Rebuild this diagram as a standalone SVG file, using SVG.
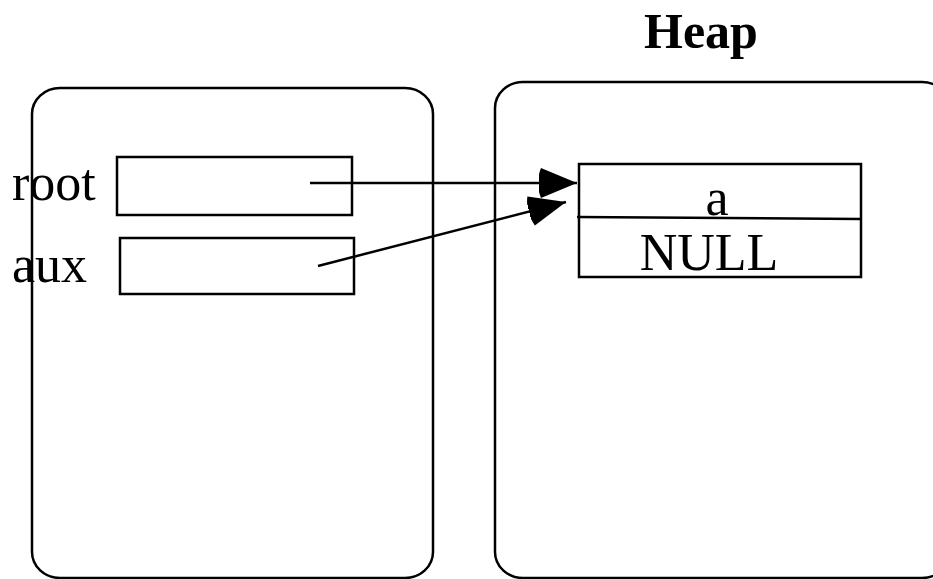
<svg xmlns="http://www.w3.org/2000/svg" width="933" height="579" viewBox="0 0 933 579">
  <style>
    .frame { fill: none; stroke: #000; stroke-width: 2.5; }
    .cell { fill: none; stroke: #000; stroke-width: 2.5; }
    .edge { fill: none; stroke: #000; stroke-width: 2.5; }
    .lbl { font-family: "Liberation Serif", "Times New Roman", serif; font-size: 52px; fill: #000; }
    .title { font-family: "Liberation Serif", "Times New Roman", serif; font-size: 50px; font-weight: bold; fill: #000; }
  </style>
  <defs>
    <marker id="arrow" markerUnits="userSpaceOnUse" markerWidth="44" markerHeight="34" refX="38" refY="15" orient="auto">
      <path d="M2,0 L38,15 L2,30 Q-4,15 2,0 Z" fill="#000"/>
    </marker>
  </defs>

  <!-- stack frame -->
  <g id="stack">
    <rect class="frame" x="32" y="88" width="401" height="490" rx="28" ry="26"/>
    <g id="root">
      <text class="lbl" x="12" y="200">root</text>
      <rect class="cell" x="117" y="157" width="235" height="58"/>
    </g>
    <g id="aux">
      <text class="lbl" x="12" y="282">aux</text>
      <rect class="cell" x="120" y="238" width="234" height="56"/>
    </g>
  </g>

  <!-- heap area -->
  <g id="heap">
    <text class="title" x="644" y="48">Heap</text>
    <rect class="frame" x="495" y="82" width="455" height="496" rx="28" ry="26"/>
    <g id="node-a">
      <rect class="cell" x="579" y="164" width="282" height="113"/>
      <line class="edge" x1="577" y1="217" x2="861" y2="219"/>
      <text class="lbl" x="717" y="215" text-anchor="middle">a</text>
      <text class="lbl" x="709" y="270" text-anchor="middle">NULL</text>
    </g>
  </g>

  <!-- pointers -->
  <g id="connectors">
    <line class="edge" x1="310" y1="183" x2="577" y2="183" marker-end="url(#arrow)"/>
    <line class="edge" x1="318" y1="266" x2="566" y2="202" marker-end="url(#arrow)"/>
  </g>
</svg>
